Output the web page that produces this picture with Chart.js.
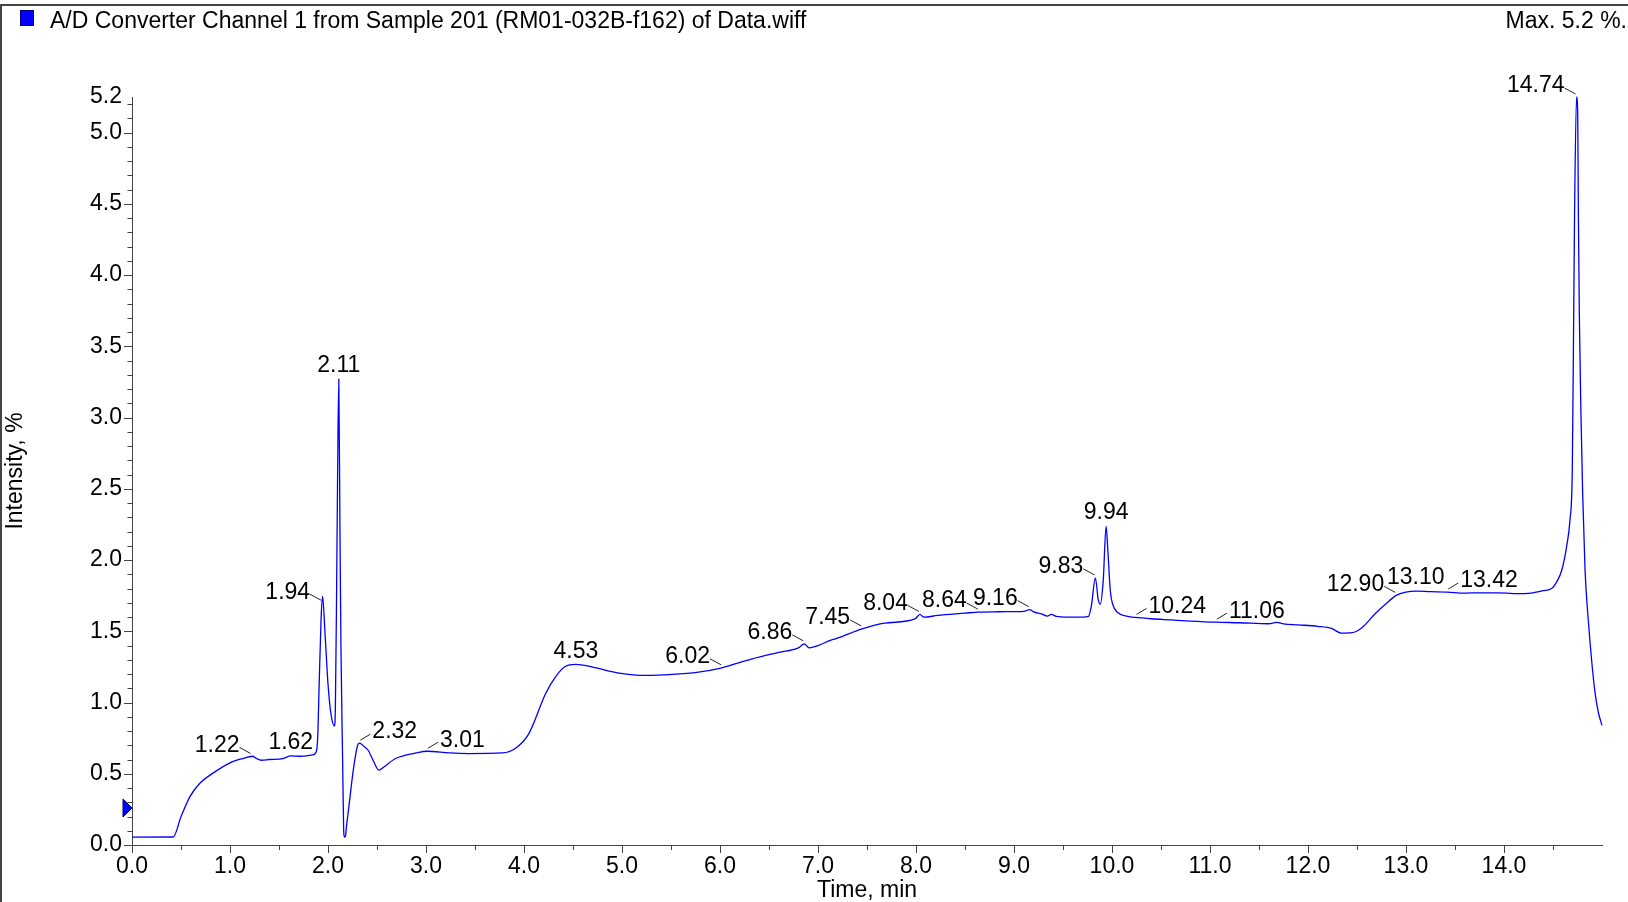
<!DOCTYPE html>
<html lang="en">
<head>
<meta charset="utf-8">
<title>A/D Converter Channel 1</title>
<script src="https://cdn.jsdelivr.net/npm/chart.js@4.4.0/dist/chart.umd.min.js"></script>
<style>
  html, body { margin: 0; padding: 0; background: #fff; }
  #marco { position: relative; width: 1628px; height: 902px; overflow: hidden; }
  #marco::before {
    content: ''; position: absolute; left: 0; top: 4px; right: 0; bottom: 0;
    border-top: 2px solid #444; border-left: 2px solid #444; pointer-events: none;
  }
  canvas { display: block; }
</style>
</head>
<body>
<div id="marco"><canvas id="grafico" width="1628" height="902"></canvas></div>
<script>
// Cromatograma del canal A/D: tiempo (min) contra intensidad (%).
// Los valores se leyeron a ojo del trazo original.

const TITULO = 'A/D Converter Channel 1 from Sample 201 (RM01-032B-f162) of Data.wiff';
const MAXIMO = 'Max. 5.2 %.';

const TIEMPOS = [
  0.0, 0.42, 0.5, 0.59, 0.69, 0.83, 1.0, 1.13, 1.23, 1.27, 1.32, 1.4, 1.54, 1.62, 1.71, 1.84,
  1.88, 1.895, 1.91, 1.93, 1.945, 1.97, 2.0, 2.03, 2.065, 2.075, 2.088, 2.098, 2.11, 2.122, 2.132,
  2.149, 2.16, 2.167, 2.177, 2.19, 2.217, 2.258, 2.3, 2.32, 2.37, 2.41, 2.46, 2.52, 2.57, 2.69,
  2.9, 3.01, 3.24, 3.44, 3.78, 3.91, 4.05, 4.22, 4.32, 4.42, 4.53, 4.7, 4.97, 5.24, 5.51, 5.78,
  6.02, 6.32, 6.6, 6.8, 6.86, 6.91, 7.0, 7.14, 7.17, 7.45, 7.68, 7.99, 8.04, 8.08, 8.22, 8.5,
  8.64, 8.84, 9.0, 9.1, 9.16, 9.2, 9.28, 9.34, 9.38, 9.43, 9.55, 9.7, 9.76, 9.79, 9.83, 9.86,
  9.88, 9.91, 9.94, 9.956, 9.983, 10.007, 10.058, 10.16, 10.24, 10.4, 10.6, 10.8, 11.06, 11.3,
  11.6, 11.68, 11.75, 11.9, 12.1, 12.24, 12.34, 12.45, 12.55, 12.68, 12.79, 12.9, 13.0, 13.1,
  13.25, 13.42, 13.6, 13.74, 13.94, 14.1, 14.21, 14.28, 14.4, 14.486, 14.537, 14.59, 14.64,
  14.673, 14.697, 14.711, 14.72, 14.74, 14.752, 14.759, 14.769, 14.786, 14.803, 14.827, 14.861,
  14.895, 14.929, 14.963, 15.0
];

const INTENSIDAD = [
  0.055, 0.056, 0.198, 0.338, 0.432, 0.506, 0.577, 0.607, 0.623, 0.607, 0.595, 0.6, 0.607, 0.625, 0.623, 0.632,
  0.653, 0.758, 1.13, 1.6, 1.745, 1.48, 1.13, 0.92, 0.835, 0.95, 1.8, 2.6, 3.27, 2.2, 1.4,
  0.6, 0.1, 0.055, 0.06, 0.14, 0.292, 0.525, 0.695, 0.715, 0.69, 0.665, 0.595, 0.525, 0.548, 0.607,
  0.646, 0.658, 0.646, 0.642, 0.646, 0.677, 0.782, 1.062, 1.179, 1.253, 1.268, 1.249, 1.207, 1.19, 1.197, 1.214,
  1.244, 1.305, 1.352, 1.384, 1.412, 1.384, 1.4, 1.44, 1.445, 1.517, 1.557, 1.587, 1.618, 1.599, 1.611, 1.627,
  1.635, 1.637, 1.638, 1.64, 1.652, 1.636, 1.622, 1.607, 1.618, 1.605, 1.6, 1.6, 1.605, 1.68, 1.875, 1.72,
  1.69, 1.85, 2.238, 2.086, 1.783, 1.69, 1.632, 1.605, 1.597, 1.588, 1.58, 1.572, 1.564, 1.56,
  1.553, 1.562, 1.552, 1.545, 1.535, 1.52, 1.487, 1.49, 1.525, 1.62, 1.69, 1.752, 1.775, 1.782,
  1.778, 1.775, 1.768, 1.77, 1.77, 1.765, 1.765, 1.768, 1.785, 1.8, 1.845, 1.93, 2.1,
  2.28, 2.64, 3.71, 4.43, 5.25, 5.14, 4.43, 3.71, 3.0, 2.46, 1.93, 1.57,
  1.29, 1.07, 0.93, 0.84
];

// Picos marcados y hacia dónde va su etiqueta
const PICOS = [1.22, 1.62, 1.94, 2.11, 2.32, 3.01, 4.53, 6.02, 6.86, 7.45, 8.04, 8.64, 9.16,
  9.83, 9.94, 10.24, 11.06, 12.90, 13.10, 13.42, 14.74];
const PICOS_LADO = ['izq', 'arriba', 'izq', 'arriba', 'der', 'der', 'arriba', 'izq', 'izq', 'izq', 'izq', 'izq', 'izq',
  'izq', 'arriba', 'der', 'der', 'izq', 'arriba', 'der', 'izq'];

const X_MAX = 15;
const X_MARCAS = [0, 1, 2, 3, 4, 5, 6, 7, 8, 9, 10, 11, 12, 13, 14];
const Y_MAX = 5.25;
const Y_MARCAS = [0, 0.5, 1.0, 1.5, 2.0, 2.5, 3.0, 3.5, 4.0, 4.5, 5.0];
const Y_ETIQUETA_MAX = '5.2';
const MARCA_NIVEL = 0.26;

const FUENTE = '"Liberation Sans", Arial, Helvetica, sans-serif';
const AZUL = '#0000ff';
const EJE = '#444';

// ---------------------------------------------------------------------
// Plugins propios
// ---------------------------------------------------------------------

// Marcas de los ejes (mayores y menores) y el triángulo azul del eje Y
const marcasEjes = {
  id: 'marcasEjes',
  afterDraw(chart) {
    const { ctx, chartArea: a, scales: { x, y } } = chart;
    ctx.save();
    ctx.strokeStyle = EJE;
    ctx.lineWidth = 1;
    ctx.beginPath();
    for (let i = 0; i * 0.5 < X_MAX; i++) {
      const px = Math.round(x.getPixelForValue(i * 0.5)) + 0.5;
      ctx.moveTo(px, a.bottom);
      ctx.lineTo(px, a.bottom + (i % 2 === 0 ? 8 : 5));
    }
    for (let i = 0; i <= 52; i++) {
      const py = Math.round(y.getPixelForValue(i / 10)) + 0.5;
      ctx.moveTo(a.left, py);
      ctx.lineTo(a.left - (i % 5 === 0 ? 8 : 4.5), py);
    }
    ctx.stroke();

    const py = y.getPixelForValue(MARCA_NIVEL);
    ctx.beginPath();
    ctx.moveTo(a.left, py);
    ctx.lineTo(a.left - 9, py - 9);
    ctx.lineTo(a.left - 9, py + 9);
    ctx.closePath();
    ctx.fillStyle = AZUL;
    ctx.fill();
    ctx.strokeStyle = '#000060';
    ctx.stroke();
    ctx.restore();
  },
};

// Posición en pantalla del trazo para un tiempo dado (entre puntos vecinos)
function puntoEnTrazo(chart, t) {
  const pts = chart.getDatasetMeta(0).data;
  const i = TIEMPOS.findIndex((v) => v >= t);
  if (i <= 0) return { x: pts[0].x, y: pts[0].y };
  const f = (t - TIEMPOS[i - 1]) / (TIEMPOS[i] - TIEMPOS[i - 1]);
  return {
    x: pts[i - 1].x + f * (pts[i].x - pts[i - 1].x),
    y: pts[i - 1].y + f * (pts[i].y - pts[i - 1].y),
  };
}

const etiquetasPicos = {
  id: 'etiquetasPicos',
  afterDatasetsDraw(chart) {
    const { ctx } = chart;
    ctx.save();
    ctx.font = '23px ' + FUENTE;
    ctx.fillStyle = '#000';
    ctx.strokeStyle = '#222';
    ctx.lineWidth = 1;
    ctx.textBaseline = 'middle';
    PICOS.forEach((t, k) => {
      const p = puntoEnTrazo(chart, t);
      const texto = t.toFixed(2);
      const lado = PICOS_LADO[k];
      if (lado === 'arriba') {
        ctx.textAlign = 'center';
        ctx.fillText(texto, p.x, p.y - 13);
      } else if (lado === 'izq') {
        ctx.beginPath();
        ctx.moveTo(p.x - 1, p.y - 3);
        ctx.lineTo(p.x - 12, p.y - 9);
        ctx.stroke();
        ctx.textAlign = 'right';
        ctx.fillText(texto, p.x - 12, p.y - 11);
      } else {
        ctx.beginPath();
        ctx.moveTo(p.x + 1, p.y - 3);
        ctx.lineTo(p.x + 11, p.y - 9);
        ctx.stroke();
        ctx.textAlign = 'left';
        ctx.fillText(texto, p.x + 13, p.y - 11);
      }
    });
    ctx.restore();
  },
};

// Cabecera: cuadrado azul, nombre del canal y el máximo
const cabecera = {
  id: 'cabecera',
  afterDraw(chart) {
    const { ctx, width } = chart;
    ctx.save();
    ctx.fillStyle = AZUL;
    ctx.fillRect(20, 10, 14, 16);
    ctx.strokeStyle = '#000080';
    ctx.lineWidth = 1;
    ctx.strokeRect(20.5, 10.5, 13, 15);
    ctx.fillStyle = '#000';
    ctx.font = '23px ' + FUENTE;
    ctx.textBaseline = 'middle';
    ctx.textAlign = 'left';
    ctx.fillText(TITULO, 50, 22);
    ctx.textAlign = 'right';
    ctx.fillText(MAXIMO, width - 1, 22);
    ctx.restore();
  },
};

// ---------------------------------------------------------------------
// Gráfico
// ---------------------------------------------------------------------
const fuenteEje = { family: FUENTE, size: 23 };

new Chart(document.getElementById('grafico'), {
  type: 'line',
  data: {
    datasets: [{
      label: TITULO,
      data: TIEMPOS.map((t, i) => ({ x: t, y: INTENSIDAD[i] })),
      borderColor: AZUL,
      borderWidth: 1.3,
      pointRadius: 0,
      fill: false,
      cubicInterpolationMode: 'monotone',
      clip: false,
    }],
  },
  options: {
    responsive: false,
    animation: false,
    layout: { padding: { top: 97, right: 26, left: 0, bottom: 0 } },
    plugins: { legend: { display: false }, tooltip: { enabled: false } },
    scales: {
      x: {
        type: 'linear',
        min: 0,
        max: X_MAX,
        afterFit: (s) => { s.height = 57; },
        afterBuildTicks: (s) => { s.ticks = X_MARCAS.map((v) => ({ value: v })); },
        grid: { display: false, drawTicks: false },
        border: { display: true, color: EJE, width: 1 },
        ticks: { autoSkip: false, maxRotation: 0, padding: 8, color: '#000', font: fuenteEje, callback: (v) => v.toFixed(1) },
        title: { display: true, text: 'Time, min', color: '#000', font: { family: FUENTE, size: 23, lineHeight: 1 }, padding: { top: 0, bottom: 0 } },
      },
      y: {
        type: 'linear',
        min: 0,
        max: Y_MAX,
        afterFit: (s) => { s.width = 132; },
        afterBuildTicks: (s) => { s.ticks = Y_MARCAS.map((v) => ({ value: v })).concat([{ value: Y_MAX }]); },
        grid: { display: false, drawTicks: false },
        border: { display: true, color: EJE, width: 1 },
        ticks: { autoSkip: false, padding: 10, color: '#000', font: fuenteEje, callback: (v) => (v === Y_MAX ? Y_ETIQUETA_MAX : v.toFixed(1)) },
        title: { display: true, text: 'Intensity, %', color: '#000', font: { family: FUENTE, size: 23, lineHeight: 1 }, padding: { top: 4, bottom: 0 } },
      },
    },
  },
  plugins: [marcasEjes, etiquetasPicos, cabecera],
});
</script>
</body>
</html>
